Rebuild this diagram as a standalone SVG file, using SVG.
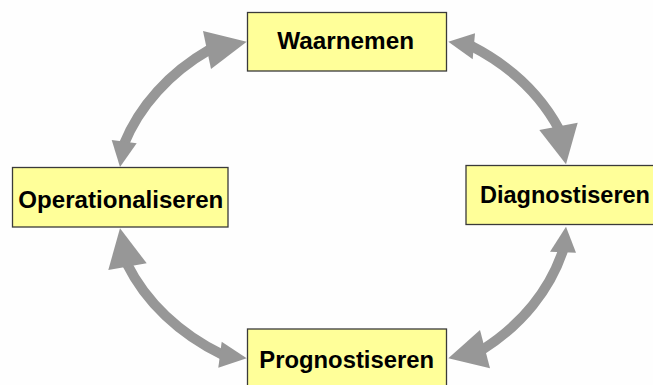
<svg xmlns="http://www.w3.org/2000/svg" width="653" height="385" viewBox="0 0 653 385">
  <style>
    .box { fill: #FFFF99; stroke: #3a3a3a; stroke-width: 1.3; }
    .lbl { font-family: "Liberation Sans", Arial, sans-serif; font-weight: bold; font-size: 23px; fill: #000; }
    .shaft { fill: none; stroke: #979797; stroke-width: 10; }
    .head { fill: #979797; }
  </style>
  <rect x="0" y="0" width="653" height="385" fill="#FEFEFE"/>

  <g id="connectors">
    <g id="arrow-operationaliseren-waarnemen">
      <path class="shaft" d="M123.7,144.7 A229 188 0 0 1 209.9,49.4"/>
      <polygon class="head" points="120,167 111.7,140 136.7,143.3"/>
      <polygon class="head" points="246.7,41.7 203,31 211,69"/>
    </g>
    <g id="arrow-waarnemen-diagnostiseren">
      <path class="shaft" d="M470.9,45.8 A229 188 0 0 1 559.1,129.3"/>
      <polygon class="head" points="448.3,41.7 475,33.3 472.7,59.3"/>
      <polygon class="head" points="566,164.3 539.3,130 577.7,122.7"/>
    </g>
    <g id="arrow-operationaliseren-prognostiseren">
      <path class="shaft" d="M126.9,263.8 A229 188 0 0 0 223,355.1"/>
      <polygon class="head" points="120,228.3 108.3,270 146.7,263.3"/>
      <polygon class="head" points="246.7,358.3 221.7,341.7 218.3,367.7"/>
    </g>
    <g id="arrow-diagnostiseren-prognostiseren">
      <path class="shaft" d="M563.4,249.2 A229 188 0 0 1 482.1,349.9"/>
      <polygon class="head" points="566,226.7 550,251.7 576,252.7"/>
      <polygon class="head" points="448.3,358.3 480,330 490,368.3"/>
    </g>
  </g>

  <g id="node-waarnemen">
    <rect class="box" x="247.5" y="12.5" width="199" height="58.5"/>
    <text class="lbl" x="277.3" y="49.3" textLength="136.7" lengthAdjust="spacingAndGlyphs">Waarnemen</text>
  </g>
  <g id="node-operationaliseren">
    <rect class="box" x="12.5" y="167.5" width="215.5" height="59.5"/>
    <text class="lbl" x="18.3" y="207.5" textLength="205" lengthAdjust="spacingAndGlyphs">Operationaliseren</text>
  </g>
  <g id="node-diagnostiseren">
    <rect class="box" x="466" y="165.5" width="200" height="59"/>
    <text class="lbl" x="480" y="202.5" textLength="170" lengthAdjust="spacingAndGlyphs">Diagnostiseren</text>
  </g>
  <g id="node-prognostiseren">
    <rect class="box" x="247.5" y="329" width="199" height="70"/>
    <text class="lbl" x="259.3" y="368" textLength="174.7" lengthAdjust="spacingAndGlyphs">Prognostiseren</text>
  </g>
</svg>
